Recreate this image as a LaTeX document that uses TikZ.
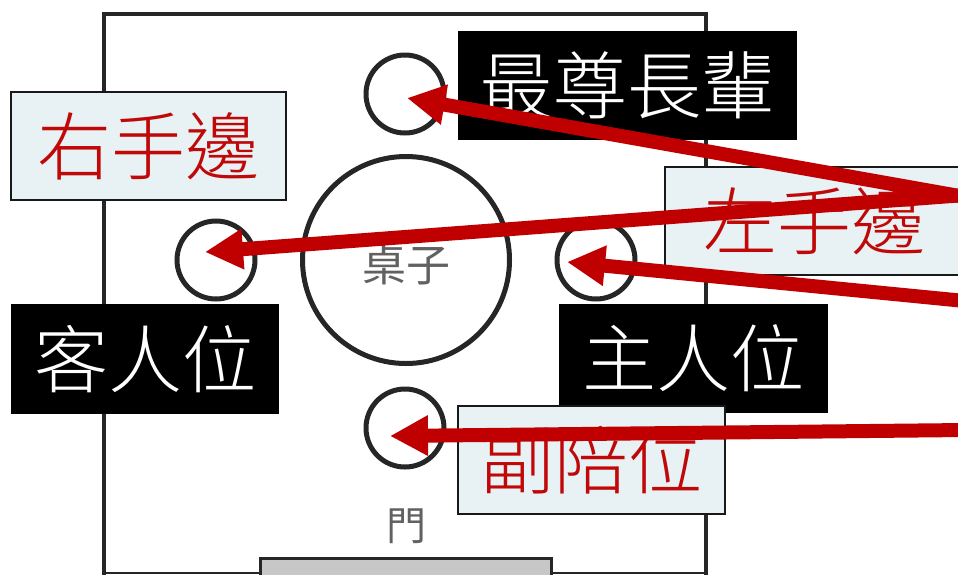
\documentclass[tikz,border=0pt]{standalone}
\usepackage{fontspec}
\usetikzlibrary{arrows.meta}
\newfontfamily\cjkl[UprightFont={* Light}]{Noto Sans CJK TC}
\newfontfamily\cjkr{Noto Sans CJK TC}
\definecolor{redarrow}{RGB}{192,0,0}
\definecolor{boxfill}{RGB}{232,241,243}
\definecolor{textred}{RGB}{192,8,8}
\definecolor{framegray}{RGB}{38,38,38}
\tikzset{
  x=1pt,y=-1pt,
  seat/.style={circle,draw=framegray,line width=5pt,minimum size=78pt,inner sep=0pt,outer sep=0pt},
  lightbox/.style={rectangle,draw=black!90,line width=2.5pt,fill=boxfill,text=textred,font=\fontsize{74}{74}\selectfont\cjkl,inner sep=0pt,outer sep=0pt,anchor=north west},
  blackbox/.style={rectangle,fill=black,text=white,font=\fontsize{74}{74}\selectfont\cjkl,inner sep=0pt,outer sep=0pt,anchor=north west},
  pointer/.style={draw=redarrow,line width=14pt,-{Triangle[length=38pt,width=38pt]},shorten >=0pt},
  blurtext/.style={text=black!62,font=\fontsize{44}{44}\selectfont\cjkr,inner sep=0pt}
}
\begin{document}
\begin{tikzpicture}
\useasboundingbox (0,0) rectangle (958,574);
\fill[white] (0,0) rectangle (958,574);
\draw[framegray,line width=3.5pt] (104,580) -- (104,14) -- (706,14) -- (706,580);
\draw[framegray,line width=2pt] (104,573) -- (706,573);
\node[circle,draw=framegray,line width=5pt,minimum size=207pt,inner sep=0pt] (table) at (406,260) {};
\node[blurtext] (tablelabel) at (406,265) {桌子};
\node[seat] (topseat) at (405,94) {};
\node[seat] (leftseat) at (216,260) {};
\node[seat] (rightseat) at (596,260) {};
\node[seat] (bottomseat) at (405,428) {};
\node[blurtext,font=\fontsize{40}{40}\selectfont\cjkr] (doorlabel) at (406,526) {門};
\node[rectangle,draw=framegray,line width=3pt,fill=black!22,anchor=north west,minimum width=291pt,minimum height=30pt,inner sep=0pt] (door) at (259,557) {};
\node[lightbox,minimum width=275pt,minimum height=108pt] (right) at (11,92) {右手邊};
\node[blackbox,minimum width=339pt,minimum height=109pt] (elder) at (458,31) {最尊長輩};
\node[lightbox,minimum width=310pt,minimum height=108pt,text width=310pt,align=left] (left) at (665,167) {\hspace{38pt}左手邊};
\node[blackbox,minimum width=268pt,minimum height=110pt] (guest) at (11,304) {客人位};
\node[blackbox,minimum width=269pt,minimum height=109pt] (host) at (559,304) {主人位};
\node[lightbox,minimum width=267pt,minimum height=108pt] (deputy) at (458,406) {副陪位};
\coordinate (srca) at (965,197);
\coordinate (srcb) at (965,195);
\coordinate (srcc) at (965,301);
\coordinate (srcd) at (965,430);
\coordinate (tipa) at (407,98);
\coordinate (tipb) at (205,252);
\coordinate (tipc) at (567,262);
\coordinate (tipd) at (390,436);
\draw[pointer] (srca) -- (tipa);
\draw[pointer] (srcb) -- (tipb);
\draw[pointer] (srcc) -- (tipc);
\draw[pointer] (srcd) -- (tipd);
\end{tikzpicture}
\end{document}
